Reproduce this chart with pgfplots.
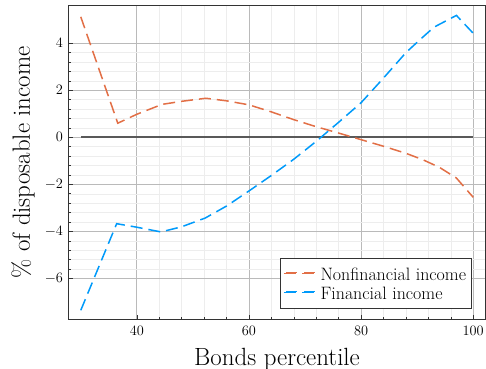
\documentclass[border=0pt]{standalone}
\usepackage{pgfplots}
\pgfplotsset{compat=1.18}
\definecolor{nfcol}{HTML}{E26F46}
\definecolor{fcol}{HTML}{009AFA}
\begin{document}
\begin{tikzpicture}
\begin{axis}[
  at={(0,0)}, anchor=south west,
  scale only axis, width=416bp, height=313bp,
  xmin=27.9, xmax=102.1, ymin=-7.72, ymax=5.58,
  xtick={40,60,80,100}, ytick={-6,-4,-2,0,2,4},
  minor x tick num=4, minor y tick num=4,
  grid=both,
  major grid style={line width=0.8bp, black!27},
  minor grid style={line width=0.5bp, black!7},
  tick align=inside, xtick pos=bottom, ytick pos=left,
  major tick length=4bp, minor tick length=2.5bp,
  tick style={black!80, line width=0.6bp},
  axis line style={black!80, line width=1bp},
  ticklabel style={font=\fontsize{14.5}{16}\selectfont},
  xticklabel style={yshift=-4bp},
  yticklabel style={xshift=-2.5bp},
  xlabel={Bonds percentile}, ylabel={\% of disposable income},
  label style={font=\fontsize{25}{28}\selectfont},
  xlabel style={at={(axis description cs:0.5,-0.147)}, anchor=base},
  ylabel style={at={(axis description cs:-0.09375,0.5)}, anchor=base},
  legend style={at={(rel axis cs:0.9675,0.034)}, anchor=south east,
    draw=black!80, line width=0.8bp, font=\fontsize{18}{18}\selectfont,
    inner xsep=3bp, inner ysep=4bp,
    nodes={inner sep=2bp, text height=17bp, text depth=2bp}, row sep=-4bp},
  legend cell align=left,
  legend image code/.code={\path (-2bp,0bp) -- (32bp,0bp);
    \draw[#1, dash pattern=on 11.5bp off 6.5bp] (0bp,1bp) -- (29bp,1bp);},
]
\addplot[black!65, line width=2bp, forget plot] coordinates {(30,0) (100,0)};
\addplot[nfcol, line width=1.5bp, dash pattern=on 12bp off 6bp] coordinates {
(30,5.12) (36.6,0.6) (40,0.98) (44.5,1.4) (48,1.53) (52.3,1.66) (56,1.55) (60,1.38)
(64,1.08) (68,0.75) (72,0.45) (76,0.18) (80,-0.1) (84,-0.38) (88,-0.68) (91,-0.95)
(94,-1.28) (97,-1.73) (100,-2.55)};
\addlegendentry{Nonfinancial income\hspace{6bp}}
\addplot[fcol, line width=1.5bp, dash pattern=on 12bp off 6bp] coordinates {
(30,-7.35) (36.4,-3.67) (40,-3.82) (44.3,-4.02) (48,-3.8) (52.2,-3.43) (56,-2.92) (60,-2.28)
(64,-1.62) (68,-0.93) (72,-0.17) (76,0.64) (80,1.47) (84,2.52) (88,3.6) (90.5,4.15)
(93,4.68) (97,5.18) (100,4.42)};
\addlegendentry{Financial income}
\end{axis}
\pgfresetboundingbox
\path[use as bounding box] (-69bp,-50bp) rectangle (417bp,319bp);
\end{tikzpicture}
\end{document}
